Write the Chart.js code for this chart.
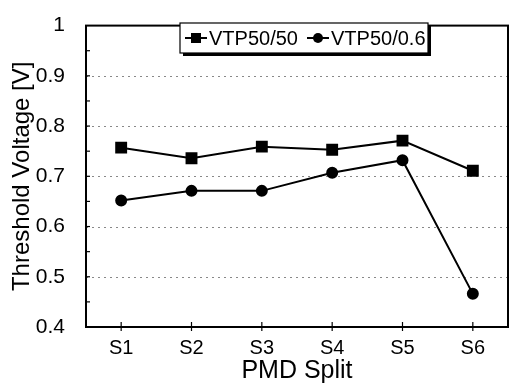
<!DOCTYPE html>
<html>
<head>
<meta charset="utf-8">
<script src="https://cdn.jsdelivr.net/npm/chart.js@4.4.1/dist/chart.umd.min.js"></script>
<style>
  html, body { margin: 0; padding: 0; background: #fff; }
  #wrap { width: 517px; height: 392px; }
</style>
</head>
<body>
<div id="wrap"><canvas id="c" width="517" height="392"></canvas></div>
<script>
const splits = ['S1', 'S2', 'S3', 'S4', 'S5', 'S6'];
const vtp5050 = [0.757, 0.736, 0.759, 0.753, 0.771, 0.711];
const vtp5006 = [0.652, 0.671, 0.671, 0.707, 0.732, 0.466];
const yTicks = [0.4, 0.5, 0.6, 0.7, 0.8, 0.9, 1];

const FONT = '"Liberation Sans", Arial, sans-serif';

// dotted horizontal grid lines at the inner y ticks
const gridPlugin = {
    id: 'dotGrid',
    beforeDatasetsDraw(chart) {
        const { ctx, chartArea: a, scales } = chart;
        ctx.save();
        ctx.strokeStyle = '#888';
        ctx.lineWidth = 1;
        ctx.setLineDash([2, 4]);
        yTicks.slice(1, -1).forEach((v) => {
            const y = Math.round(scales.y.getPixelForValue(v)) + 0.5;
            ctx.beginPath();
            ctx.moveTo(a.left, y);
            ctx.lineTo(a.right, y);
            ctx.stroke();
        });
        ctx.restore();
    }
};

// box round the plot, tick marks on the axes and the boxed legend inside
const framePlugin = {
    id: 'frame',
    afterDraw(chart) {
        const { ctx, chartArea: a, scales } = chart;
        ctx.save();
        ctx.strokeStyle = '#000';
        ctx.lineWidth = 2;
        ctx.strokeRect(a.left, a.top, a.right - a.left, a.bottom - a.top);

        ctx.lineWidth = 1.2;
        splits.forEach((s, i) => {
            const x = scales.x.getPixelForValue(i);
            ctx.beginPath();
            ctx.moveTo(x, a.bottom - 5);
            ctx.lineTo(x, a.bottom + 4);
            ctx.stroke();
        });
        for (let v = 0.45; v < 1; v += 0.05) {
            const y = scales.y.getPixelForValue(v);
            ctx.beginPath();
            ctx.moveTo(a.left, y);
            ctx.lineTo(a.left + 4, y);
            ctx.stroke();
        }

        // legend
        const bx = 180, by = 23, bw = 248, bh = 30;
        ctx.fillStyle = '#000';
        ctx.fillRect(bx + 3, by + 3, bw, bh);
        ctx.fillStyle = '#fff';
        ctx.fillRect(bx, by, bw, bh);
        ctx.lineWidth = 1.2;
        ctx.strokeRect(bx, by, bw, bh);

        const items = [
            { x: 185, label: 'VTP50/50', style: 'rect' },
            { x: 307, label: 'VTP50/0.6', style: 'circle' }
        ];
        const cy = by + bh / 2;
        ctx.font = '20px ' + FONT;
        ctx.textBaseline = 'middle';
        items.forEach((it) => {
            ctx.lineWidth = 2;
            ctx.beginPath();
            ctx.moveTo(it.x, cy);
            ctx.lineTo(it.x + 22, cy);
            ctx.stroke();
            ctx.fillStyle = '#000';
            if (it.style === 'rect') {
                ctx.fillRect(it.x + 6, cy - 5, 10, 10);
            } else {
                ctx.beginPath();
                ctx.arc(it.x + 11, cy, 5, 0, Math.PI * 2);
                ctx.fill();
            }
            ctx.fillText(it.label, it.x + 24, cy + 1);
        });
        ctx.restore();
    }
};

new Chart(document.getElementById('c').getContext('2d'), {
    type: 'line',
    data: {
        labels: splits,
        datasets: [
            {
                label: 'VTP50/50',
                data: vtp5050,
                borderColor: '#000',
                backgroundColor: '#000',
                borderWidth: 2,
                pointStyle: 'rect',
                pointRadius: 7,
                tension: 0
            },
            {
                label: 'VTP50/0.6',
                data: vtp5006,
                borderColor: '#000',
                backgroundColor: '#000',
                borderWidth: 2,
                pointStyle: 'circle',
                pointRadius: 5,
                tension: 0
            }
        ]
    },
    options: {
        responsive: false,
        animation: false,
        layout: { padding: { left: 0, right: 5, top: 13, bottom: 0 } },
        plugins: { legend: { display: false }, tooltip: { enabled: false } },
        scales: {
            x: {
                offset: true,
                grid: { display: false },
                border: { display: false },
                ticks: { color: '#000', padding: 1, font: { family: FONT, size: 20 } },
                title: {
                    display: true,
                    text: 'PMD Split',
                    color: '#000',
                    padding: { top: 0, bottom: 6 },
                    font: { family: FONT, size: 25 }
                },
                afterFit(s) { s.height = 65; }
            },
            y: {
                min: 0.4,
                max: 1,
                afterBuildTicks(s) { s.ticks = yTicks.map((v) => ({ value: v })); },
                grid: { display: false },
                border: { display: false },
                ticks: {
                    color: '#000',
                    padding: 13,
                    font: { family: FONT, size: 21 },
                    callback: (v) => String(+v.toFixed(1))
                },
                title: {
                    display: true,
                    text: 'Threshold Voltage [V]',
                    color: '#000',
                    padding: { top: 8, bottom: 0 },
                    font: { family: FONT, size: 24 }
                },
                afterFit(s) { s.width = 86; }
            }
        }
    },
    plugins: [gridPlugin, framePlugin]
});
</script>
</body>
</html>
